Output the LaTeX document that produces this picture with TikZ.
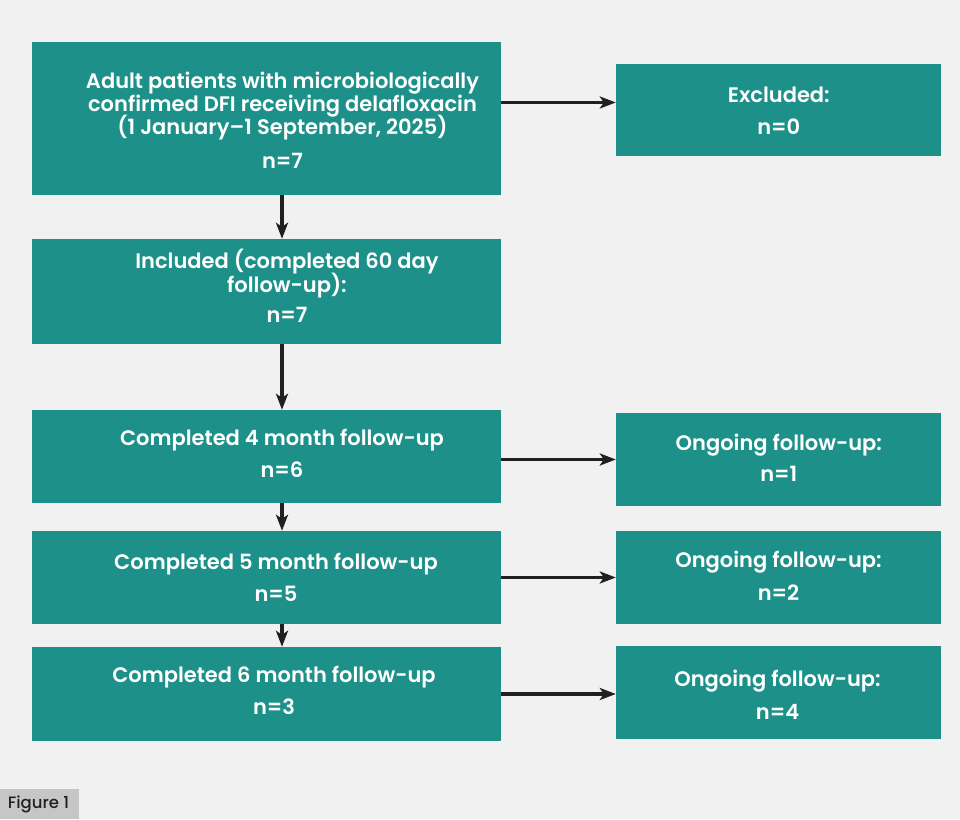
\documentclass[tikz,border=0pt]{standalone}
\usepackage{fontspec}
\setmainfont{Poppins}[BoldFont={Poppins SemiBold}]
\newfontfamily\popmed{Poppins Medium}
\usetikzlibrary{arrows.meta}
\definecolor{teal1}{HTML}{1D9189}
\definecolor{bgc}{HTML}{F1F1F1}
\definecolor{arrc}{HTML}{231F20}
\definecolor{figc}{HTML}{C6C6C6}
\begin{document}
\begin{tikzpicture}[x=1pt,y=1pt,
  box/.style={draw=none,fill=teal1,inner sep=0pt,minimum width=469pt},
  sbox/.style={draw=none,fill=teal1,inner sep=0pt,minimum width=325pt},
  txt/.style={anchor=base,inner sep=0pt,text=white,font=\bfseries\fontsize{21}{25}\selectfont},
  arr/.style={draw=arrc,line width=3.5pt,-{Stealth[length=16pt,width=12pt,inset=4pt]}}]
\fill[bgc] (0,0) rectangle (960,819);
\useasboundingbox (0,0) rectangle (960,819);
% boxes
\node[box,minimum height=153pt] (b1) at (266.5,700.5) {};
\node[sbox,minimum height=92pt] (ex) at (778.5,709) {};
\node[box,minimum height=105pt] (b2) at (266.5,527.5) {};
\node[box,minimum height=93pt] (b3) at (266.5,362.5) {};
\node[sbox,minimum height=93pt] (o1) at (778.5,359.5) {};
\node[box,minimum height=93pt] (b4) at (266.5,241.5) {};
\node[sbox,minimum height=93pt] (o2) at (778.5,241.5) {};
\node[box,minimum height=94pt] (b5) at (266.5,125) {};
\node[sbox,minimum height=93pt] (o3) at (778.5,126.5) {};
% texts
\node[txt] (t1a) at (282.5,730.3) {Adult patients with microbiologically};
\node[txt] (t1b) at (282.5,707.3) {confirmed DFI receiving delafloxacin};
\node[txt] (t1c) at (282.5,684.3) {(1 January–1 September, 2025)};
\node[txt] (t1d) at (282.5,650.7) {n=7};
\node[txt] (tea) at (778.8,716.7) {Excluded:};
\node[txt] (teb) at (778.8,684) {n=0};
\node[txt] (t2a) at (287,550) {Included (completed 60 day};
\node[txt] (t2b) at (287,526) {follow-up):};
\node[txt] (t2c) at (287,496) {n=7};
\node[txt] (t3a) at (282,373.3) {Completed 4 month follow-up};
\node[txt] (t3b) at (282,341.3) {n=6};
\node[txt] (to1a) at (778.8,368) {Ongoing follow-up:};
\node[txt] (to1b) at (778.8,337) {n=1};
\node[txt] (t4a) at (276,249) {Completed 5 month follow-up};
\node[txt] (t4b) at (276,217.3) {n=5};
\node[txt] (to2a) at (778.5,251) {Ongoing follow-up:};
\node[txt] (to2b) at (778.5,218.3) {n=2};
\node[txt] (t5a) at (274,136.3) {Completed 6 month follow-up};
\node[txt] (t5b) at (274,105) {n=3};
\node[txt] (to3a) at (777.5,132.3) {Ongoing follow-up:};
\node[txt] (to3b) at (777.5,100) {n=4};
% figure label
\node[fill=figc,inner sep=0pt,minimum width=79pt,minimum height=30pt] (fig) at (39.5,15) {};
\node[anchor=base,inner sep=0pt,text=arrc,font=\popmed\fontsize{16.5}{18}\selectfont] (figt) at (38.5,11) {Figure 1};
% arrows
\draw[arr] ([yshift=16pt]b1.east) -- ([yshift=16pt]b1.east -| ex.west);
\draw[arr] ([xshift=15.5pt]b1.south) -- ([xshift=15.5pt]b2.north);
\draw[arr] ([xshift=15.5pt]b2.south) -- ([xshift=15.5pt]b3.north);
\draw[arr] ([xshift=15.5pt]b3.south) -- ([xshift=15.5pt]b4.north);
\draw[arr] ([xshift=15.5pt]b4.south) -- ([xshift=15.5pt]b5.north);
\draw[arr] (b3.east |- o1.west) -- (o1.west);
\draw[arr] (b4.east) -- (o2.west);
\draw[arr] (b5.east) -- (b5.east -| o3.west);
\end{tikzpicture}
\end{document}
